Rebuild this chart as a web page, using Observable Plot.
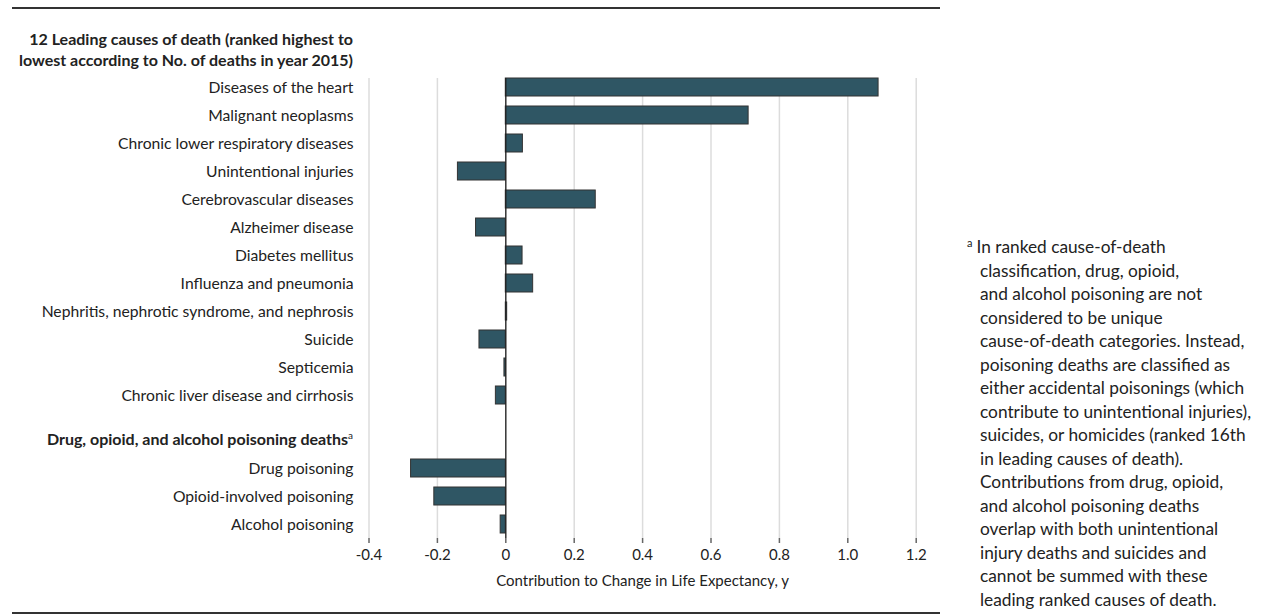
<!DOCTYPE html>
<html><head><meta charset="utf-8">
<script src="https://cdn.jsdelivr.net/npm/d3@7"></script>
<script src="https://cdn.jsdelivr.net/npm/@observablehq/plot@0.6"></script>
<style>
body{margin:0;background:#fff;font-family:Lato,"Noto Sans",sans-serif;color:#222}
#wrap{position:relative;width:1262px;height:615px;overflow:hidden;background:#fff}
.rule{position:absolute;left:12px;width:928px;height:2px;background:#333}
#head{position:absolute;left:0;top:28px;width:353px;text-align:right;font-size:16px;font-weight:700;line-height:21px;color:#222}
#subhead{position:absolute;left:0;top:428px;width:353px;text-align:right;font-size:16px;font-weight:700;line-height:22px;color:#222}
sup{font-size:10px;vertical-align:6px;line-height:0;font-weight:400}
#p1{position:absolute;left:0;top:73px}
#p2{position:absolute;left:0;top:409px}
#note{position:absolute;left:967px;top:235px;width:300px;font-size:17.3px;line-height:23.5px;padding-left:13px;text-indent:-13px;color:#222;white-space:nowrap}
#note sup{font-size:11px;vertical-align:6px;margin-right:4px}
</style></head><body>
<div id="wrap">
  <div class="rule" style="top:7px"></div>
  <div id="head">12 Leading causes of death (ranked highest to<br>lowest according to No. of deaths in year 2015)</div>
  <div id="p1"></div>
  <div id="subhead">Drug, opioid, and alcohol poisoning deaths<sup>a</sup></div>
  <div id="p2"></div>
  <div class="rule" style="top:612px"></div>
  <div id="note"><sup>a</sup>In ranked cause-of-death<br>classification, drug, opioid,<br>and alcohol poisoning are not<br>considered to be unique<br>cause-of-death categories. Instead,<br>poisoning deaths are classified as<br>either accidental poisonings (which<br>contribute to unintentional injuries),<br>suicides, or homicides (ranked 16th<br>in leading causes of death).<br>Contributions from drug, opioid,<br>and alcohol poisoning deaths<br>overlap with both unintentional<br>injury deaths and suicides and<br>cannot be summed with these<br>leading ranked causes of death.</div>
</div>
<script>
const causes = [
  "Diseases of the heart",
  "Malignant neoplasms",
  "Chronic lower respiratory diseases",
  "Unintentional injuries",
  "Cerebrovascular diseases",
  "Alzheimer disease",
  "Diabetes mellitus",
  "Influenza and pneumonia",
  "Nephritis, nephrotic syndrome, and nephrosis",
  "Suicide",
  "Septicemia",
  "Chronic liver disease and cirrhosis"
];
const causeValues = [1.09, 0.71, 0.05, -0.14, 0.263, -0.087, 0.049, 0.08, 0.004, -0.077, -0.004, -0.029];
const poisonings = ["Drug poisoning", "Opioid-involved poisoning", "Alcohol poisoning"];
const poisoningValues = [-0.277, -0.209, -0.015];
const xTicks = [-0.4, -0.2, 0, 0.2, 0.4, 0.6, 0.8, 1.0, 1.2];
const xDomain = [-0.4, 1.2];
const xLabel = "Contribution to Change in Life Expectancy, y";

const data1 = causes.map((c, i) => ({name: c, value: causeValues[i]}));
const data2 = poisonings.map((c, i) => ({name: c, value: poisoningValues[i]}));

const W = 940, ML = 368.5, MR = 24.3, ROW = 28;
const barFill = "#2f5664", barStroke = "#333";
const fmt = d => d === 0 ? "0" : d.toFixed(1);
const style = {fontFamily: "Lato, 'Noto Sans', sans-serif", fontSize: "15.7px", color: "#222", background: "transparent"};

const p1 = Plot.plot({
  width: W, height: causes.length * ROW,
  marginTop: 0, marginBottom: 0, marginLeft: ML, marginRight: MR,
  style,
  x: {domain: xDomain, axis: null},
  y: {domain: causes, paddingInner: 0.375, paddingOuter: 0.1875, tickSize: 0, tickPadding: 15.5, label: null},
  marks: [
    Plot.ruleX(xTicks, {stroke: "#dcdcdc", strokeWidth: 1.5, insetTop: 5}),
    Plot.barX(data1, {x: "value", y: "name", fill: barFill, stroke: barStroke, strokeWidth: 1}),
    Plot.ruleX([0], {stroke: "#222", strokeWidth: 1.3, insetTop: 5})
  ]
});
document.getElementById("p1").appendChild(p1);

const MT2 = 45, MB2 = 55;
const p2 = Plot.plot({
  width: W, height: MT2 + poisonings.length * ROW + MB2,
  marginTop: MT2, marginBottom: MB2, marginLeft: ML, marginRight: MR,
  style,
  x: {domain: xDomain},
  y: {domain: poisonings, paddingInner: 0.375, paddingOuter: 0.1875, tickSize: 0, tickPadding: 15.5, label: null},
  marks: [
    Plot.ruleX(xTicks, {stroke: "#dcdcdc", strokeWidth: 1.5, insetTop: -MT2}),
    Plot.barX(data2, {x: "value", y: "name", fill: barFill, stroke: barStroke, strokeWidth: 1}),
    Plot.ruleX([0], {stroke: "#222", strokeWidth: 1.3, insetTop: -MT2}),
    Plot.axisX({ticks: xTicks, tickFormat: fmt, tickSize: 5, tickPadding: 6, stroke: "#666", strokeWidth: 1.5, line: true,
      label: xLabel, labelAnchor: "center", labelOffset: 47, labelArrow: "none", fontSize: 15})
  ]
});
document.getElementById("p2").appendChild(p2);
</script>
</body></html>
